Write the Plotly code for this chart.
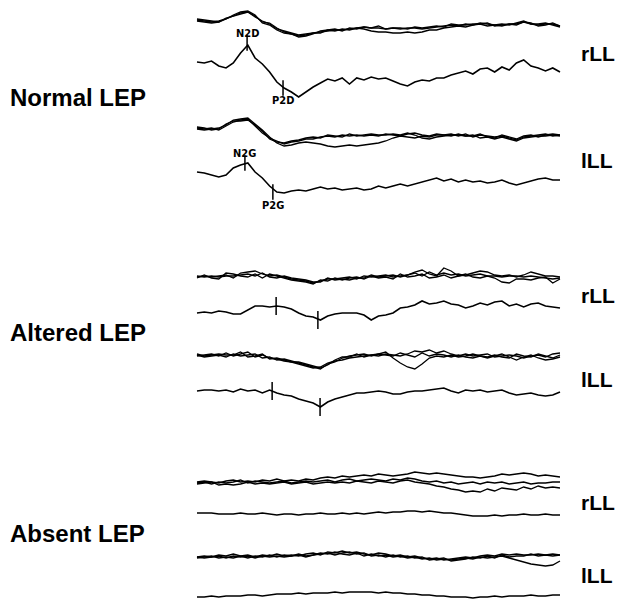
import plotly.graph_objects as go

# sample times (ms)
t = list(range(0, 1001, 20))

# ---- Normal LEP, rLL ----
n_r_s1 = [5,4,3,4,6,9,12,13,9,3, 2,-3,-7,-9,-11,-10,-8,-7,-6,-5, -5,-4,-3,-2,-3,-1,-4,-3,-4,-3, -3,-4,-3,-2,-1,0,-1,1,0,2, 1,0,1,0,2,4,1,0,1,1, -1]
n_r_s2 = [4,3,2,3,6,10,13,14,10,2, 0,-5,-8,-9,-12,-11,-9,-6,-5,-6, -4,-5,-3,-4,-6,-7,-7,-8,-8,-7, -8,-7,-5,-5,-3,-2,-1,-2,0,1, -1,0,-1,1,0,3,2,-1,0,2, -1]
n_r_s3 = [6,5,4,3,7,9,11,13,8,4, 1,-4,-6,-8,-10,-9,-8,-8,-5,-4, -6,-3,-4,-2,-3,-3,-4,-3,-3,-4, -2,-3,-2,-1,-2,1,0,0,1,1, 2,-1,0,1,1,3,1,1,2,0, -2]
n_r_avg = [3,2,4,-1,-3,2,12,20,7,1, -7,-17,-23,-27,-32,-27,-22,-18,-14,-16, -13,-19,-13,-15,-12,-14,-13,-16,-19,-21, -17,-15,-16,-13,-13,-10,-8,-6,-9,-4, -3,-7,-2,-5,2,5,-1,-3,-6,-3, -7]
# ---- Normal LEP, lLL ----
n_l_s1 = [7,6,7,5,9,13,15,16,9,2, -3,-6,-9,-7,-6,-4,-4,-2,-1,-2, 0,-1,0,-1,0,-1,1,0,-1,1, 2,0,-1,1,0,1,-1,1,-2,0, -1,-2,-1,-3,-5,-2,-1,0,1,-1, 0]
n_l_s2 = [6,5,6,7,10,15,16,17,11,5, -2,-8,-11,-10,-8,-7,-8,-9,-11,-12, -11,-10,-11,-10,-9,-8,-6,-3,-1,-2, -3,-1,-2,0,0,-1,1,-1,0,-3, -2,-4,-2,-4,-6,-3,-2,-1,-1,0, -1]
n_l_s3 = [8,7,5,6,11,14,14,15,10,4, -4,-7,-8,-6,-5,-3,-2,-3,0,-1, -2,1,-1,0,1,0,0,1,0,2, 0,-3,-4,-2,-1,0,0,-1,-1,1, -2,-3,0,-2,-4,-1,0,-2,0,1, 0]
n_l_avg = [8,7,5,3,5,12,15,17,8,2, -6,-12,-13,-11,-10,-11,-9,-7,-9,-8, -10,-9,-8,-10,-9,-6,-8,-6,-4,-6, -4,-2,0,2,-1,1,-2,0,-2,-1, -3,-2,0,-3,-5,-3,-1,1,2,0, 0]
# ---- Altered LEP, rLL ----
a_r_s1 = [0,1,0,1,2,-1,4,5,6,3, 1,2,0,-2,-3,-4,-6,-4,-2,-2, -1,0,-2,1,0,1,2,0,1,2, 5,7,3,1,9,6,1,2,4,6, 5,2,1,2,0,2,5,3,1,1, 0]
a_r_s2 = [-1,2,-1,-2,4,3,1,0,3,-1, 3,1,-1,-3,-4,-5,-7,-3,-4,-1, -3,-1,0,-2,1,-1,0,-2,3,0, 1,3,-1,0,2,-1,1,3,0,-1, 1,-1,-5,-6,-2,-2,-3,-1,0,-6, -2]
a_r_s3 = [1,0,1,0,1,1,2,3,1,4, 0,-1,1,-1,-2,-3,-5,-5,-1,-3, -2,-3,-1,-1,2,0,1,2,0,2, 4,1,5,2,4,2,3,1,2,3, 1,1,0,1,1,0,1,0,-1,-2, -1]
a_r_avg = [-3,-2,-3,-1,-2,-4,-4,0,4,4, 3,4,3,1,-3,-6,-7,-10,-6,-4, -3,-3,-3,-5,-10,-6,-5,-3,2,3, 5,9,6,7,9,6,5,2,4,7, 5,8,9,4,6,3,6,7,4,3, 2]
# ---- Altered LEP, lLL ----
a_l_s1 = [0,1,2,0,3,0,2,4,-1,1, -2,-3,-5,-6,-8,-10,-12,-11,-7,-5, -4,-2,-1,0,1,2,1,0,3,1, -1,3,0,2,1,-1,1,-1,-2,0, -1,1,-1,-2,2,0,-1,2,0,-2, 1]
a_l_s2 = [1,-1,0,1,-1,2,0,1,2,-2, -1,-4,-3,-5,-7,-9,-11,-13,-8,-6, -2,0,1,2,0,2,4,-2,-7,-11, -13,-8,-2,0,-1,1,-1,0,2,0, -2,0,2,-1,-4,-1,1,-2,-4,-3, -1]
a_l_s3 = [2,0,1,2,1,1,4,-1,0,2, -3,-2,-4,-6,-6,-8,-10,-12,-9,-4, -1,-1,2,-1,1,0,2,1,0,2, 5,4,6,3,5,2,0,2,0,1, 2,-1,0,1,0,-2,0,1,-1,2, 3]
a_l_avg = [0,1,1,0,1,-1,2,0,1,-2, 1,-2,-4,-5,-8,-10,-12,-16,-11,-8, -6,-4,-2,-2,-1,0,-1,-3,-3,-1, 0,0,1,2,3,0,-2,1,0,1, -1,0,1,-2,-4,-3,-2,-4,-5,-4, -1]
# ---- Absent LEP, rLL ----
x_r_s1 = [0,1,0,-1,1,2,0,1,0,2, 1,3,1,2,1,3,2,4,5,4, 6,5,6,7,6,8,7,6,7,8, 10,9,8,9,8,7,6,5,5,4, 5,6,8,7,8,9,8,6,7,6, 5]
x_r_s2 = [-1,0,-2,0,-1,0,2,-1,1,0, -1,0,1,-1,0,1,0,1,2,0, 2,3,1,2,3,2,1,3,2,4, 3,1,0,1,-1,0,-2,-1,0,-2, 0,-1,0,-2,-1,0,-2,-1,-1,0, 0]
x_r_s3 = [-2,-1,0,-3,-2,-3,-2,0,-2,-1, -2,-1,0,-2,-1,0,-2,-1,0,-1, 0,-1,1,0,-1,1,0,-1,1,2, 0,-1,-2,-4,-5,-7,-8,-10,-9,-10, -7,-9,-6,-7,-8,-5,-7,-4,-6,-5, -6]
x_r_avg = [0,0,0,-1,-1,-1,0,-1,-1,0, -1,-2,-1,-1,-2,-1,-1,0,-1,-1, 0,-1,0,-1,0,1,0,1,1,2, 2,1,2,1,0,0,-1,-2,-3,-3, -3,-2,-3,-2,-2,-1,-2,-2,-1,-2, -2]
# ---- Absent LEP, lLL ----
x_l_s1 = [-1,0,-1,1,0,2,0,1,-1,1, 0,2,0,1,0,2,3,1,4,3, 5,3,4,2,1,3,2,0,1,-1, 0,-2,-3,-2,-4,-3,-2,-1,-2,0, 1,0,2,1,2,1,1,2,1,2, 1]
x_l_s2 = [-2,-1,0,-2,-1,-2,0,-2,0,-1, 1,-1,1,0,2,0,1,3,2,4, 2,1,3,0,2,0,1,-1,0,-2, -1,-3,-2,-4,-3,-4,-3,-2,-3,-1, -2,-1,0,-2,-4,-6,-8,-9,-10,-9, -5]
x_l_s3 = [-1,-2,-1,0,-2,0,-1,0,-2,0, -1,0,-1,0,1,-1,1,2,3,1, 3,4,2,3,0,1,-1,1,-1,0, -2,-1,-4,-3,-2,-5,-4,-3,-1,-2, 0,-2,1,-1,0,0,2,0,1,0, 1]
x_l_avg = [-2,-2,-1,-2,-1,-1,-1,0,0,-1, 0,1,1,1,2,1,2,2,2,3, 2,3,3,3,3,2,3,2,2,1, 1,0,0,-1,-1,-2,-2,-2,-3,-2, -2,-1,-2,-1,-1,-1,0,-1,-1,0, 0]

# peak markers: (latency ms, amplitude)
peak_names = ["N2D", "P2D", "N2G", "P2G"]
peak_lat = [138, 237, 132, 209]
peak_amp = [22, -23, 17, -12]
alt_lat = [218, 333, 207, 339]
alt_amp = [4, -10, 0, -16]

group_labels = ["Normal LEP", "Altered LEP", "Absent LEP"]
side_labels = ["rLL", "lLL", "rLL", "lLL", "rLL", "lLL"]

# ---------------- layout / positions ----------------
W, H = 618, 599
X0_PX, PX_PER_MS = 197, 0.363
# vertical baseline of each row (in display units, 1 unit = 1 px)
rows = [
    ([n_r_s1, n_r_s2, n_r_s3], 25), ([n_r_avg], 65),
    ([n_l_s1, n_l_s2, n_l_s3], 135), ([n_l_avg], 180),
    ([a_r_s1, a_r_s2, a_r_s3], 277), ([a_r_avg], 310),
    ([a_l_s1, a_l_s2, a_l_s3], 356), ([a_l_avg], 391),
    ([x_r_s1, x_r_s2, x_r_s3], 482), ([x_r_avg], 513),
    ([x_l_s1, x_l_s2, x_l_s3], 556), ([x_l_avg], 595),
]

fig = go.Figure()
for series, base in rows:
    width = 1.6 if len(series) == 1 else 1.3
    for s in series:
        fig.add_trace(go.Scatter(x=t, y=[v - base for v in s], mode="lines",
                                 line=dict(color="black", width=width),
                                 hoverinfo="skip", showlegend=False))

# peak ticks
normal_bases = [65, 65, 180, 180]
fig.add_trace(go.Scatter(x=peak_lat, y=[a - b for a, b in zip(peak_amp, normal_bases)],
                         mode="markers",
                         marker=dict(symbol="line-ns", size=11, line=dict(color="black", width=1.5)),
                         hoverinfo="skip", showlegend=False))
alt_bases = [310, 310, 391, 391]
fig.add_trace(go.Scatter(x=alt_lat, y=[a - b for a, b in zip(alt_amp, alt_bases)],
                         mode="markers",
                         marker=dict(symbol="line-ns", size=13, line=dict(color="black", width=1.5)),
                         hoverinfo="skip", showlegend=False))

# peak name labels
label_dy = [10, -12, 10, -13]
for name, lat, amp, base, dy in zip(peak_names, peak_lat, peak_amp, normal_bases, label_dy):
    fig.add_annotation(x=lat, y=amp - base + dy, text="<b>" + name + "</b>",
                       showarrow=False, xref="x", yref="y",
                       font=dict(family="DejaVu Sans Condensed, Arial", size=11, color="black"))

# group labels (left) and side labels (right)
group_y = [97, 332, 533]
for txt, py in zip(group_labels, group_y):
    fig.add_annotation(x=8 / W, y=1 - py / H, xref="paper", yref="paper", text="<b>" + txt + "</b>",
                       showarrow=False, xanchor="left", yanchor="middle",
                       font=dict(family="Arial", size=24, color="black"))
side_y = [54, 160, 295, 379, 502, 575]
for txt, py in zip(side_labels, side_y):
    fig.add_annotation(x=579 / W, y=1 - py / H, xref="paper", yref="paper", text="<b>" + txt + "</b>",
                       showarrow=False, xanchor="left", yanchor="middle",
                       font=dict(family="Arial", size=21, color="black"))

x_lo = -X0_PX / PX_PER_MS
x_hi = (W - X0_PX) / PX_PER_MS
fig.update_layout(
    width=W, height=H, margin=dict(l=0, r=0, t=0, b=0),
    paper_bgcolor="white", plot_bgcolor="white",
    xaxis=dict(range=[x_lo, x_hi], visible=False, fixedrange=True),
    yaxis=dict(range=[-H, 0], visible=False, fixedrange=True),
)
fig.write_html("out.html", config={"displayModeBar": False},
               post_script="document.body.style.margin='0';document.body.style.overflow='hidden';")
